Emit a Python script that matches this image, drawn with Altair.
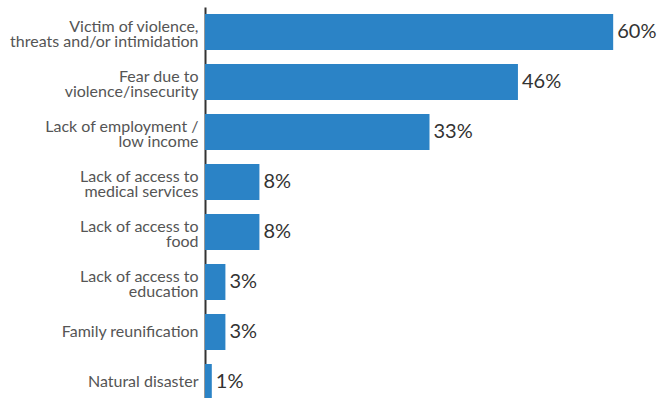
import altair as alt
import pandas as pd

categories = [
    "Victim of violence,|threats and/or intimidation",
    "Fear due to|violence/insecurity",
    "Lack of employment /|low income",
    "Lack of access to|medical services",
    "Lack of access to|food",
    "Lack of access to|education",
    "Family reunification",
    "Natural disaster",
]
values = [60, 46, 33, 8, 8, 3, 3, 1]

df = pd.DataFrame({"cat": categories, "val": values})
df["label"] = df["val"].map(lambda v: f"{v:.0f}%")

y = alt.Y(
    "cat:N",
    sort=categories,
    title=None,
    scale=alt.Scale(paddingInner=0.28, paddingOuter=0.14),
    axis=alt.Axis(
        labelExpr="split(datum.label, '|')",
        labelFont="Lato",
        labelFontSize=16,
        labelColor="#555555",
        labelLineHeight=15,
        labelPadding=7,
        labelLimit=300,
        labelOffset={"condition": {"test": "indexof(datum.label, '|') >= 0", "value": -5}, "value": 0},
        ticks=False,
        domainColor="#333333",
        domainWidth=2,
        grid=False,
    ),
)
x = alt.X("val:Q", title=None, scale=alt.Scale(domain=[0, 66]), axis=None)

bars = alt.Chart(df).mark_bar(color="#2b83c6").encode(x=x, y=y)
text = alt.Chart(df).mark_text(
    align="left", baseline="middle", dx=4, font="Lato", fontSize=20, color="#333333"
).encode(x=x, y=alt.Y("cat:N", sort=categories), text="label:N")

chart = (
    alt.layer(bars, text)
    .properties(
        width=449,
        height=400,
        autosize=alt.AutoSizeParams(type="none"),
        padding={"left": 205, "top": 7, "right": 6, "bottom": 0},
    )
    .configure_view(stroke=None)
)

chart.save("out.html", embed_options={"renderer": "svg", "actions": False})
